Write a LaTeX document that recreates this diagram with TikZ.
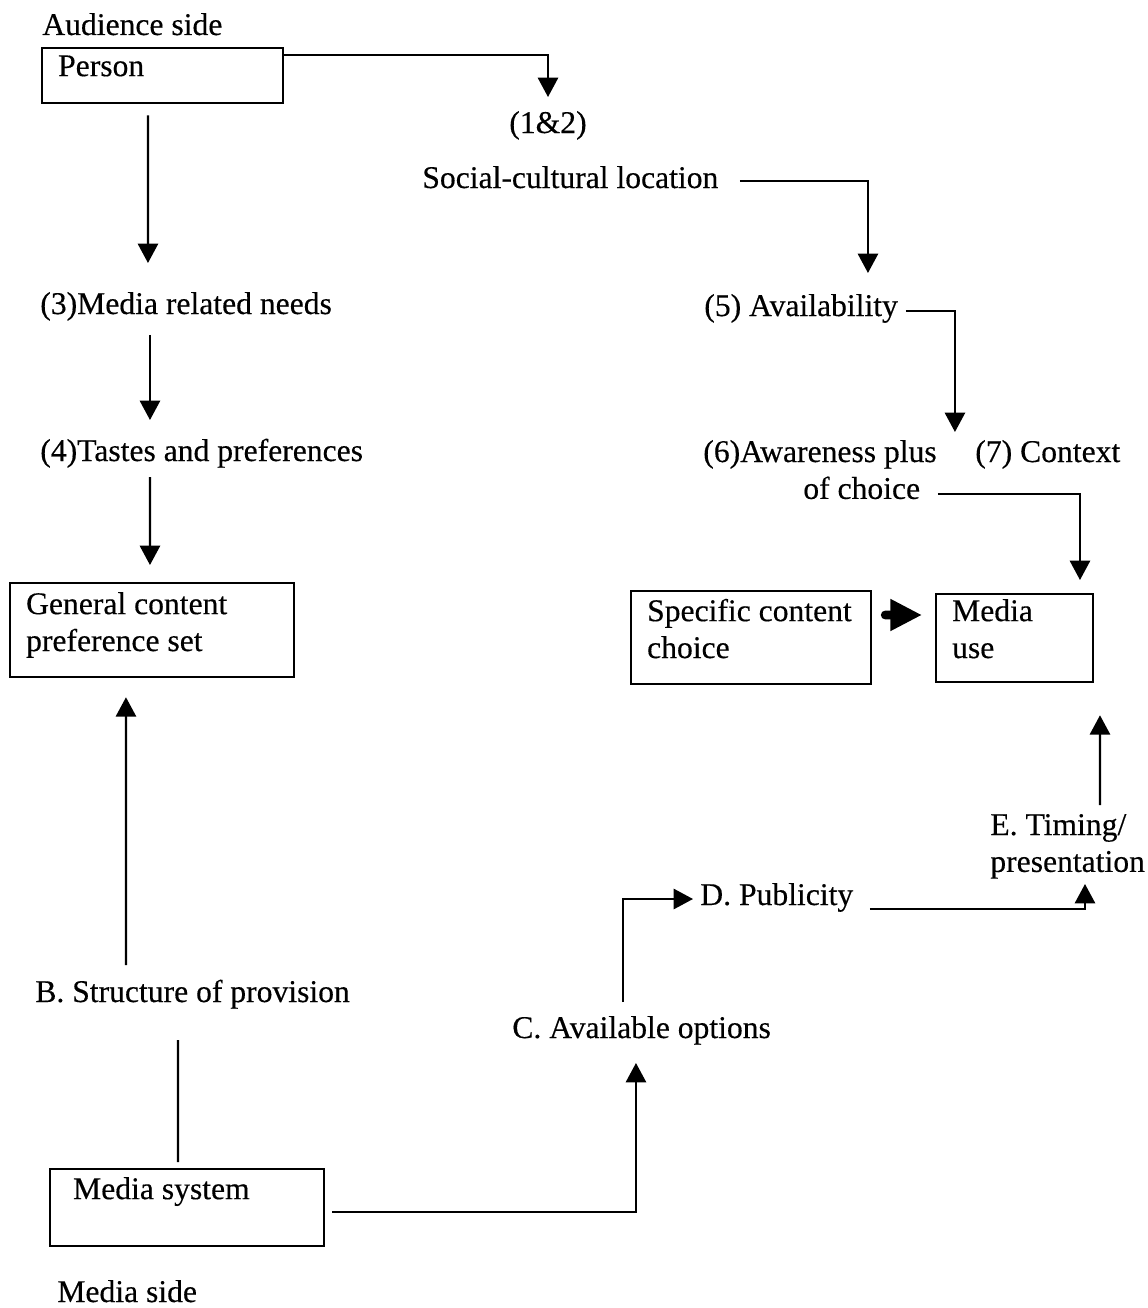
\documentclass[tikz,border=0pt]{standalone}
\usepackage{fontspec}
\setmainfont{Liberation Serif}[BoldFont={Liberation Serif}, BoldFeatures={FakeBold=0.35}]
\usetikzlibrary{arrows.meta,positioning}
\tikzset{
  % boxed stages, text sits top left
  box/.style={draw, line width=1.3pt, anchor=north west, inner ysep=0pt,
    inner xsep=0.32cm, align=flush left},
  % free labels, placed by their baseline
  txt/.style={inner sep=0pt, anchor=base west},
  % plain connectors
  link/.style={line width=1.2pt},
  arr/.style={link, -{Triangle[length=11pt,width=11.5pt]}},
  bigarr/.style={line width=5pt, line cap=round, -{Triangle[length=18pt,width=17pt]}},
}
\begin{document}
\begin{tikzpicture}[x=0.02cm, y=-0.02cm, font=\fontsize{18}{21}\selectfont\bfseries]
  \useasboundingbox (0,0) rectangle (1147,1308);
  % audience side
  \node[txt] (audside) at (42,35) {Audience side};
  \node[box, text width=4.18cm, text height=0.56cm, text depth=0.54cm]
    (person) at (41,47) {Person};
  \node[txt, anchor=base] (onetwo) at (548,133) {(1\&2)};
  \node[txt] (social) at (422,188) {Social-cultural location};
  \node[txt] (needs) at (40,314) {(3)Media related needs};
  \node[txt] (tastes) at (40,461) {(4)Tastes and preferences};
  \node[box, text width=5.04cm, text height=0.62cm, text depth=1.26cm]
    (genpref) at (9,582) {General content\\preference set};
  \node[txt] (avail) at (704,316) {(5) Availability};
  \node[txt, text width=5.2cm, align=flush left] (aware) at (703,462)
    {(6)Awareness plus\\\hspace*{2cm}of choice};
  \node[txt] (context) at (975,462) {(7) Context};
  \node[box, text width=4.16cm, text height=0.6cm, text depth=1.26cm]
    (specific) at (630,590) {Specific content\\choice};
  \node[box, text width=2.5cm, text height=0.54cm, text depth=1.22cm]
    (mediause) at (935,593) {Media\\use};
  % media side
  \node[txt, text width=3.3cm, align=flush left] (timing) at (990,835)
    {E. Timing/\\presentation};
  \node[txt] (publicity) at (700,905) {D. Publicity};
  \node[txt] (struct) at (35,1002) {B. Structure of provision};
  \node[txt] (options) at (512,1038) {C. Available options};
  \node[box, inner xsep=0.46cm, text width=4.56cm, text height=0.6cm, text depth=0.94cm]
    (mediasys) at (49,1168) {Media system};
  \node[txt] (mediaside) at (57,1302) {Media side};

  % audience chain
  \draw[arr] ([yshift=-0.16cm]person.north east) -| ([yshift=0.72cm]onetwo.base);
  \draw[arr] ([xshift=2.14cm,yshift=-0.22cm]person.south west)
    -- ([xshift=2.16cm,yshift=1.02cm]needs.base west);
  \draw[arr] ([xshift=2.2cm,yshift=-0.42cm]needs.base west)
    -- ([xshift=2.2cm,yshift=0.82cm]tastes.base west);
  \draw[arr] ([xshift=2.2cm,yshift=-0.32cm]tastes.base west)
    -- ([xshift=2.82cm,yshift=0.34cm]genpref.north west);
  \draw[arr] ([xshift=6.36cm,yshift=0.14cm]social.base west)
    -| ([xshift=3.28cm,yshift=0.86cm]avail.base west);
  \draw[arr] ([xshift=4.04cm,yshift=0.1cm]avail.base west)
    -| ([xshift=5.04cm,yshift=0.6cm]aware.base west);
  \draw[arr] ([xshift=4.7cm,yshift=-0.64cm]aware.base west)
    -| ([xshift=2.9cm,yshift=0.26cm]mediause.north west);
  \draw[bigarr] ([xshift=0.26cm,yshift=-0.5cm]specific.north east)
    -- ([xshift=-0.26cm,yshift=-0.44cm]mediause.north west);

  % media chain
  \draw[link] ([xshift=2.58cm,yshift=0.12cm]mediasys.north west)
    -- ([xshift=2.86cm,yshift=-0.76cm]struct.base west);
  \draw[arr] ([xshift=1.82cm,yshift=0.74cm]struct.base west)
    -- ([xshift=2.34cm,yshift=-0.38cm]genpref.south west);
  \draw[arr] ([xshift=0.14cm,yshift=0.7cm]mediasys.south east)
    -| ([xshift=2.48cm,yshift=-0.5cm]options.base west);
  \draw[arr] ([xshift=2.22cm,yshift=0.72cm]options.base west)
    |- ([xshift=-0.14cm,yshift=0.12cm]publicity.base west);
  \draw[arr] ([xshift=3.4cm,yshift=-0.08cm]publicity.base west)
    -| ([xshift=1.9cm,yshift=-0.98cm]timing.base west);
  \draw[arr] ([xshift=2.2cm,yshift=0.6cm]timing.base west)
    -- ([xshift=3.3cm,yshift=-0.64cm]mediause.south west);
\end{tikzpicture}
\end{document}
